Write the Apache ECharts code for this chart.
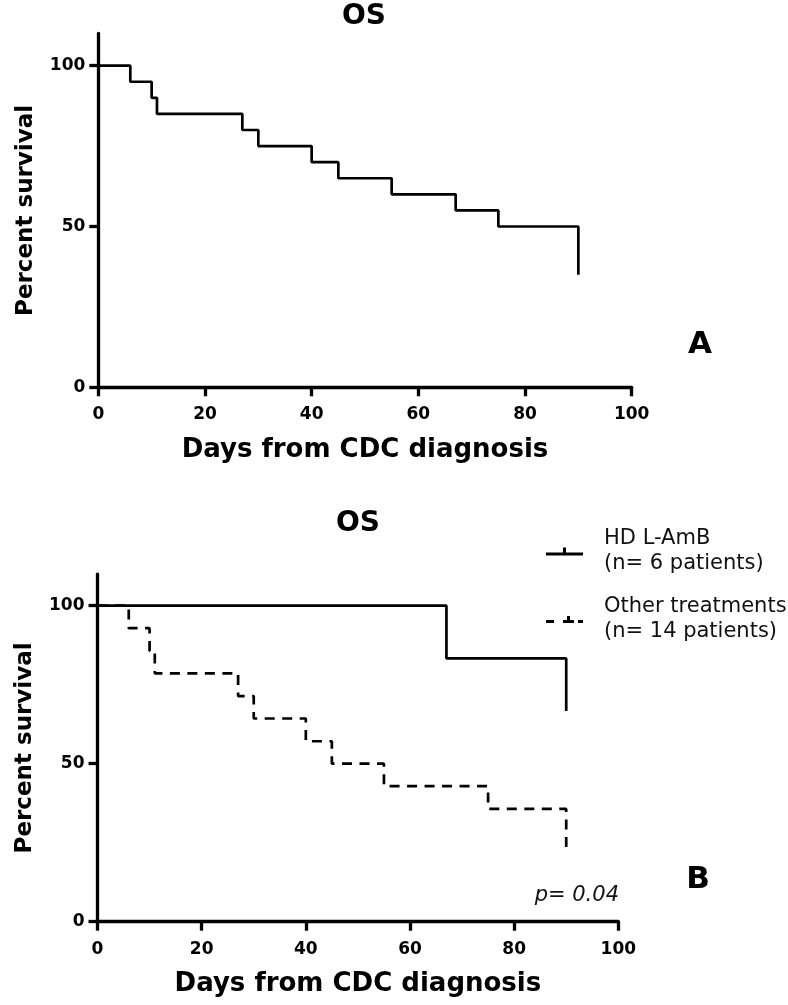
<!DOCTYPE html>
<html>
<head>
<meta charset="utf-8">
<script src="https://cdn.jsdelivr.net/npm/echarts@6/dist/echarts.min.js"></script>
<style>
html,body{margin:0;padding:0;background:#fff;}
#chart{width:788px;height:1005px;}
</style>
</head>
<body>
<div id="chart"></div>
<script>
// ---- data ----
var topDays      = [0, 6, 10, 11, 27, 30, 40, 45, 55, 67, 75, 90];
var topSurvival  = [100, 95, 90, 85, 80, 75, 70, 65, 60, 55, 50, 35];

var hdDays       = [0, 67, 90];
var hdSurvival   = [100, 83.3, 66.7];

var otherDays     = [0, 6, 10, 11, 27, 30, 40, 45, 55, 75, 90];
var otherSurvival = [100, 92.9, 85.7, 78.6, 71.4, 64.3, 57.1, 50, 42.9, 35.7, 21.4];

var legendNames    = ['HD L-AmB', 'Other treatments'];
var patientCounts  = [6, 14];

var xTicks = [0, 20, 40, 60, 80, 100];
var yTicks = [0, 50, 100];

var panelTitle = 'OS';
var xName = 'Days from CDC diagnosis';
var yName = 'Percent survival';
var pText = 'p= 0.04';
// ----------------------------------------

function pairs(xs, ys) { return xs.map(function (x, i) { return [x, ys[i]]; }); }

var FONT = 'DejaVu Sans';
var axisLine = { show: true, lineStyle: { color: '#000', width: 3.3 } };
var axisTick = { show: true, inside: false, length: 9, lineStyle: { color: '#000', width: 3.3 } };
var tickLabel = { color: '#000', fontFamily: FONT, fontWeight: 'bold', fontSize: 17 };

function xAxis(gridIndex) {
  return {
    type: 'value', gridIndex: gridIndex, min: 0, max: 100, interval: 20,
    axisLine: axisLine,
    axisTick: Object.assign({ customValues: xTicks }, axisTick),
    axisLabel: Object.assign({ margin: 19, customValues: xTicks }, tickLabel),
    splitLine: { show: false },
    name: xName, nameLocation: 'middle', nameGap: 50,
    nameTextStyle: { color: '#000', fontFamily: FONT, fontWeight: 'bold', fontSize: 26 }
  };
}
function yAxis(gridIndex) {
  return {
    type: 'value', gridIndex: gridIndex, min: 0, max: 110, interval: 50,
    axisLine: axisLine,
    axisTick: Object.assign({ customValues: yTicks }, axisTick),
    axisLabel: Object.assign({ margin: 13, customValues: yTicks }, tickLabel),
    splitLine: { show: false },
    name: yName, nameLocation: 'middle', nameGap: 61, nameRotate: 90,
    nameTextStyle: { color: '#000', fontFamily: FONT, fontWeight: 'bold', fontSize: 23 }
  };
}

var chart = echarts.init(document.getElementById('chart'), null, { renderer: 'canvas' });

var hdIcon = 'path://M0,5L37,5L37,8L0,8Z M17,0L20,0L20,5L17,5Z';
var otherIcon = 'path://M0,5L8,5L8,8L0,8Z M17,5L28,5L28,8L17,8Z M21,1L24,1L24,5L21,5Z M32,5L37,5L37,8L32,8Z';

var option = {
  animation: false,
  backgroundColor: '#fff',
  grid: [
    { left: 98.3, right: 156.3, top: 33.5, bottom: 617.7, containLabel: false },
    { left: 97.5, right: 169.7, top: 574.1, bottom: 83.3, containLabel: false }
  ],
  xAxis: [xAxis(0), xAxis(1)],
  yAxis: [yAxis(0), yAxis(1)],
  legend: {
    orient: 'vertical',
    left: 541, top: 518.5,
    itemWidth: 37, itemHeight: 8, itemGap: 12,
    selectedMode: false,
    itemStyle: { borderWidth: 0 },
    lineStyle: { width: 0 },
    data: [
      { name: legendNames[0], icon: hdIcon },
      { name: legendNames[1], icon: otherIcon }
    ],
    formatter: function (name) {
      var i = legendNames.indexOf(name);
      return name + '\n(n= ' + patientCounts[i] + ' patients)';
    },
    textStyle: { color: '#111', fontFamily: FONT, fontSize: 21, lineHeight: 25, padding: [6, 0, 0, 16] }
  },
  series: [
    {
      name: 'All patients', type: 'line', xAxisIndex: 0, yAxisIndex: 0,
      step: 'end', showSymbol: false, symbol: 'none',
      lineStyle: { color: '#000', width: 2.7 }, itemStyle: { color: '#000' },
      data: pairs(topDays, topSurvival)
    },
    {
      name: legendNames[0], type: 'line', xAxisIndex: 1, yAxisIndex: 1,
      step: 'end', showSymbol: false, symbol: 'none',
      lineStyle: { color: '#000', width: 2.7 }, itemStyle: { color: '#000' },
      data: pairs(hdDays, hdSurvival), z: 3
    },
    {
      name: legendNames[1], type: 'line', xAxisIndex: 1, yAxisIndex: 1,
      step: 'end', showSymbol: false, symbol: 'none',
      lineStyle: { color: '#000', width: 2.7, type: [10, 7.5] }, itemStyle: { color: '#000' },
      data: pairs(otherDays, otherSurvival), z: 2
    }
  ],
  graphic: [
    { type: 'text', x: 364, y: 17, style: { text: panelTitle, fill: '#000', font: 'bold 28px "DejaVu Sans"', align: 'center', verticalAlign: 'middle' } },
    { type: 'text', x: 358, y: 524, style: { text: panelTitle, fill: '#000', font: 'bold 28px "DejaVu Sans"', align: 'center', verticalAlign: 'middle' } },
    { type: 'text', x: 700, y: 345, style: { text: 'A', fill: '#000', font: 'bold 31px "DejaVu Sans"', align: 'center', verticalAlign: 'middle' } },
    { type: 'text', x: 698, y: 880, style: { text: 'B', fill: '#000', font: 'bold 31px "DejaVu Sans"', align: 'center', verticalAlign: 'middle' } },
    { type: 'text', x: 619, y: 896, style: { text: pText, fill: '#111', font: 'italic 21px "DejaVu Sans"', align: 'right', verticalAlign: 'middle' } }
  ]
};
chart.setOption(option);
</script>
</body>
</html>
